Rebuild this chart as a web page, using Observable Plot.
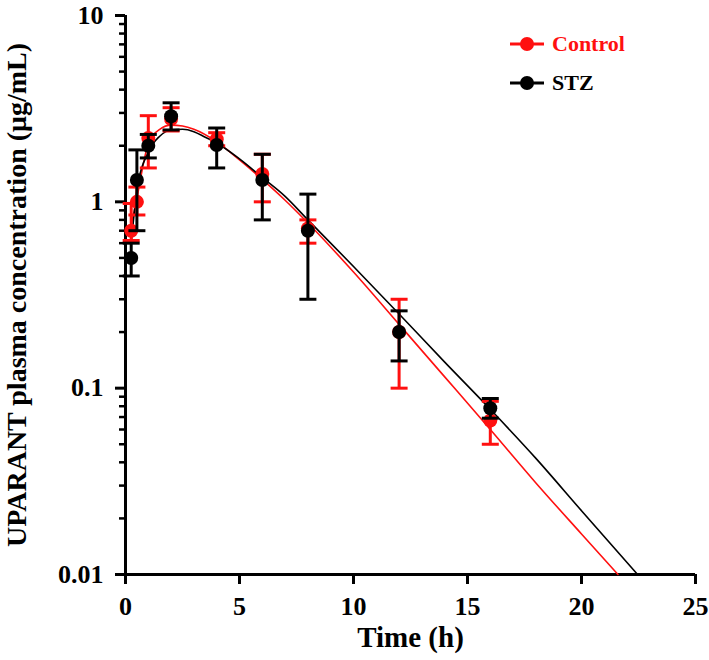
<!DOCTYPE html>
<html>
<head>
<meta charset="utf-8">
<script src="https://cdn.jsdelivr.net/npm/d3@7"></script>
<script src="https://cdn.jsdelivr.net/npm/@observablehq/plot@0.6"></script>
<style>
  html, body { margin: 0; padding: 0; background: #fff; }
  #wrap { position: relative; width: 709px; height: 660px; }
  #legend { position: absolute; left: 510px; top: 30px; font-family: "Liberation Serif", serif; font-weight: bold; font-size: 22px; }
  #legend .item { display: flex; align-items: center; height: 28px; margin-bottom: 11px; }
  #legend svg { margin-right: 8px; }
</style>
</head>
<body>
<div id="wrap">
  <div id="chart"></div>
  <div id="legend"></div>
</div>
<script>
// Sampling times (h)
const times = [0.25, 0.5, 1, 2, 4, 6, 8, 12, 16];

// Control group: mean and error-bar ends (µg/mL)
const controlMean = [0.70, 1.00, 2.20, 2.78, 2.17, 1.41, 0.72, 0.20, 0.067];
const controlLow  = [0.62, 0.85, 1.52, 2.40, 2.00, 1.00, 0.60, 0.10, 0.050];
const controlHigh = [0.98, 1.20, 2.90, 3.20, 2.35, 1.80, 0.80, 0.30, 0.085];

// STZ group
const stzMean = [0.50, 1.31, 2.00, 2.88, 2.02, 1.31, 0.70, 0.20, 0.078];
const stzLow  = [0.40, 0.70, 1.72, 2.43, 1.52, 0.80, 0.30, 0.14, 0.069];
const stzHigh = [0.60, 1.90, 2.30, 3.40, 2.49, 1.80, 1.10, 0.26, 0.088];

// Fitted curves
const controlFitT = [0.25, 0.5, 1, 1.5, 2, 2.5, 3, 4, 5, 6, 7, 8, 10, 12, 14, 16, 18, 20, 21.6];
const controlFitC = [0.75, 1.05, 2.05, 2.45, 2.58, 2.55, 2.45, 2.10, 1.68, 1.32, 1.02, 0.77, 0.42, 0.22, 0.115, 0.060, 0.031, 0.0165, 0.01];
const stzFitT = [0.25, 0.5, 1, 1.5, 2, 2.5, 3, 3.5, 4, 5, 6, 7, 8, 10, 12, 14, 16, 18, 20, 22.46];
const stzFitC = [0.60, 1.15, 1.85, 2.25, 2.43, 2.45, 2.38, 2.22, 2.07, 1.70, 1.35, 1.07, 0.80, 0.45, 0.25, 0.138, 0.077, 0.042, 0.022, 0.01];

// Axis ticks
const xTicks = [0, 5, 10, 15, 20, 25];
const yMajor = [0.01, 0.1, 1, 10];
const yMinor = [0.02, 0.03, 0.04, 0.05, 0.06, 0.07, 0.08, 0.09,
                0.2, 0.3, 0.4, 0.5, 0.6, 0.7, 0.8, 0.9,
                2, 3, 4, 5, 6, 7, 8, 9];

const groups = [
  {name: "Control", color: "#ff1010", mean: controlMean, low: controlLow, high: controlHigh, fitT: controlFitT, fitC: controlFitC},
  {name: "STZ", color: "#000000", mean: stzMean, low: stzLow, high: stzHigh, fitT: stzFitT, fitC: stzFitC}
];

const cap = {
  draw(ctx, size) {
    const r = Math.sqrt(size / Math.PI);
    ctx.moveTo(-r, 0);
    ctx.lineTo(r, 0);
  }
};

const marks = [];
// fitted lines
for (const g of groups) {
  const fit = g.fitT.map((t, i) => ({t, c: g.fitC[i]}));
  marks.push(Plot.line(fit, {x: "t", y: "c", stroke: g.color, strokeWidth: 1.6, curve: "monotone-x"}));
}
// error bars and points
for (const g of groups) {
  const rows = times.map((t, i) => ({t, mean: g.mean[i], low: g.low[i], high: g.high[i]}));
  marks.push(Plot.ruleX(rows, {x: "t", y1: "low", y2: "high", stroke: g.color, strokeWidth: 3}));
  marks.push(Plot.dot(rows, {x: "t", y: "low", symbol: cap, r: 8.5, stroke: g.color, fill: "none", strokeWidth: 3}));
  marks.push(Plot.dot(rows, {x: "t", y: "high", symbol: cap, r: 8.5, stroke: g.color, fill: "none", strokeWidth: 3}));
  marks.push(Plot.dot(rows, {x: "t", y: "mean", r: 7, fill: g.color, stroke: "none"}));
}

const chart = Plot.plot({
  width: 709,
  height: 660,
  marginLeft: 125,
  marginRight: 14,
  marginTop: 15,
  marginBottom: 86,
  style: {fontFamily: "'Liberation Serif', serif", fontWeight: "bold", color: "#000", background: "#fff"},
  x: {domain: [0, 25]},
  y: {type: "log", domain: [0.01, 10]},
  marks: [
    Plot.axisX({ticks: xTicks, tickSize: 10, tickPadding: 12, strokeWidth: 3, fontSize: 26, label: null, tickFormat: d => String(d)}),
    Plot.axisY({ticks: yMinor, tickSize: 6, strokeWidth: 2.5, tickFormat: () => "", label: null}),
    Plot.axisY({ticks: yMajor, tickSize: 10, tickPadding: 12, strokeWidth: 3, fontSize: 26, label: null, tickFormat: d => String(d)}),
    Plot.ruleX([0], {strokeWidth: 3}),
    Plot.ruleY([0.01], {strokeWidth: 3}),
    ...marks,
    Plot.text(["UPARANT plasma concentration (\u03bcg/mL)"], {frameAnchor: "left", textAnchor: "middle", dx: -108, rotate: -90, fontSize: 28, fontWeight: "bold"}),
    Plot.text(["Time (h)"], {frameAnchor: "bottom", textAnchor: "middle", dy: 72, fontSize: 29, fontWeight: "bold"})
  ]
});
document.getElementById("chart").appendChild(chart);

// Legend
const legend = document.getElementById("legend");
for (const g of groups) {
  const item = document.createElement("div");
  item.className = "item";
  item.innerHTML = `<svg width="34" height="16"><line x1="0" y1="8" x2="34" y2="8" stroke="${g.color}" stroke-width="3"/><circle cx="17" cy="8" r="7" fill="${g.color}"/></svg><span style="color:${g.color}">${g.name}</span>`;
  legend.appendChild(item);
}
</script>
</body>
</html>
